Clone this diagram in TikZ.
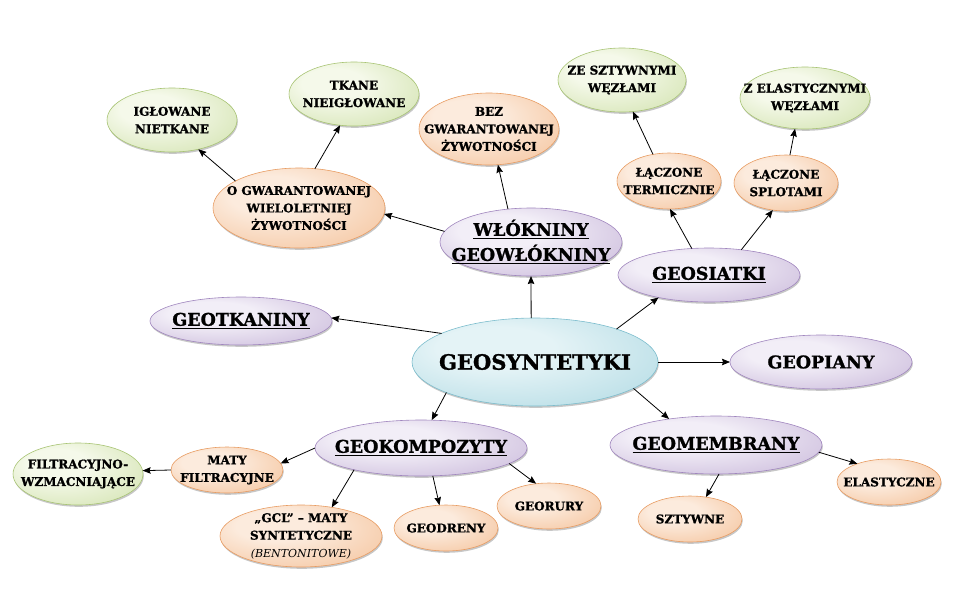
\documentclass[tikz,border=0pt]{standalone}
\usepackage{fontspec}
\setmainfont{DejaVu Serif}[BoldFeatures={FakeBold=1.2}]
\usetikzlibrary{shapes.geometric,shadows,arrows.meta}

\definecolor{purIn}{HTML}{F2EEF7}
\definecolor{purOut}{HTML}{BFABD3}
\definecolor{purRim}{HTML}{A086BE}
\definecolor{oraIn}{HTML}{FCEBDD}
\definecolor{oraOut}{HTML}{F2B88A}
\definecolor{oraRim}{HTML}{E89C62}
\definecolor{grnIn}{HTML}{F5F9EA}
\definecolor{grnOut}{HTML}{C8DC9E}
\definecolor{grnRim}{HTML}{A8C474}
\definecolor{cyaIn}{HTML}{E4F3F6}
\definecolor{cyaOut}{HTML}{A4D4DF}
\definecolor{cyaRim}{HTML}{7CBDCD}

\pgfdeclareradialshading{purshade}{\pgfpoint{-10bp}{10bp}}{color(0bp)=(purIn); color(12bp)=(purIn); color(48bp)=(purOut); color(62bp)=(purRim)}
\pgfdeclareradialshading{orashade}{\pgfpoint{-10bp}{10bp}}{color(0bp)=(oraIn); color(12bp)=(oraIn); color(48bp)=(oraOut); color(62bp)=(oraRim)}
\pgfdeclareradialshading{grnshade}{\pgfpoint{-10bp}{10bp}}{color(0bp)=(grnIn); color(12bp)=(grnIn); color(48bp)=(grnOut); color(62bp)=(grnRim)}
\pgfdeclareradialshading{cyashade}{\pgfpoint{-10bp}{10bp}}{color(0bp)=(cyaIn); color(12bp)=(cyaIn); color(48bp)=(cyaOut); color(62bp)=(cyaRim)}

\newcommand\myul[1]{\leavevmode\setbox0\hbox{#1}\rlap{\rule[-3.5pt]{\wd0}{1.6pt}}\box0}
\newcommand\fsmall{\bfseries\fontsize{12}{17.5}\selectfont}
\newcommand\fmid{\bfseries\fontsize{17.5}{25}\selectfont}
\newcommand\fbig{\bfseries\fontsize{21}{25}\selectfont}

\tikzset{
  basebox/.style={ellipse, inner sep=0pt, outer sep=0pt, draw=#1Rim, line width=0.6pt,
    drop shadow={shadow xshift=0.8pt, shadow yshift=-1.8pt, opacity=0.22, fill=black}},
  pur/.style={basebox=pur, shade, shading=purshade},
  ora/.style={basebox=ora, shade, shading=orashade},
  grn/.style={basebox=grn, shade, shading=grnshade},
  cya/.style={basebox=cya, shade, shading=cyashade},
  sz/.style 2 args={minimum width=#1pt, minimum height=#2pt},
  lbl/.style={align=center, inner sep=0pt, text=black, font=\fsmall},
  lblm/.style={lbl, font=\fmid},
  lblb/.style={lbl, font=\fbig},
  arr/.style={-{Stealth[length=8pt,width=6.5pt,inset=1pt]}, line width=0.8pt, black}
}

\begin{document}
\begin{tikzpicture}[x=1pt,y=-1pt]
\useasboundingbox (0,0) rectangle (960,598);

% main
\node[cya, sz={246}{88}, label={[lblb]center:GEOSYNTETYKI}] (c) at (535,362) {};

% purple
\node[pur, sz={182}{68}, label={[lblm]center:{\myul{WŁÓKNINY}\\\myul{GEOWŁÓKNINY}}}] (wl) at (531,242) {};
\node[pur, sz={182}{54}, label={[lblm]center:\myul{GEOSIATKI}}] (sia) at (709,275) {};
\node[pur, sz={182}{48}, label={[lblm]center:\myul{GEOTKANINY}}] (gtk) at (241,321) {};
\node[pur, sz={182}{54}, label={[lblm]center:GEOPIANY}] (gp) at (821,362) {};
\node[pur, sz={212}{58}, label={[lblm]center:\myul{GEOMEMBRANY}}] (gm) at (716,445) {};
\node[pur, sz={212}{56}, label={[lblm]center:\myul{GEOKOMPOZYTY}}] (gk) at (421,448) {};

% orange
\node[ora, sz={140}{72}, label={[lbl]center:{BEZ\\GWARANTOWANEJ\\ŻYWOTNOŚCI}}] (bez) at (489,129) {};
\node[ora, sz={172}{80}, label={[lbl]center:{O GWARANTOWANEJ\\WIELOLETNIEJ\\ŻYWOTNOŚCI}}] (ogw) at (299,208) {};
\node[ora, sz={104}{56}, label={[lbl]center:{ŁĄCZONE\\TERMICZNIE}}] (lt) at (669,181) {};
\node[ora, sz={104}{56}, label={[lbl]center:{ŁĄCZONE\\SPLOTAMI}}] (ls) at (786,183) {};
\node[ora, sz={104}{46}, label={[lbl]center:ELASTYCZNE}] (el) at (889,482) {};
\node[ora, sz={104}{46}, label={[lbl]center:SZTYWNE}] (sz) at (690,519) {};
\node[ora, sz={104}{46}, label={[lbl]center:GEORURY}] (gr) at (549,506) {};
\node[ora, sz={104}{46}, label={[lbl]center:GEODRENY}] (gd) at (446,528) {};
\node[ora, sz={162}{62}, label={[lbl]center:{„GCL” – MATY\\SYNTETYCZNE\\{\normalfont\itshape\fontsize{11}{17}\selectfont (BENTONITOWE)}}}] (gcl) at (301,536) {};
\node[ora, sz={112}{46}, label={[lbl]center:{MATY\\FILTRACYJNE}}] (mf) at (227,470) {};

% green
\node[grn, sz={130}{64}, label={[lbl]center:{IGŁOWANE\\NIETKANE}}] (igl) at (172,120) {};
\node[grn, sz={130}{64}, label={[lbl]center:{TKANE\\NIEIGŁOWANE}}] (tk) at (354,94) {};
\node[grn, sz={128}{64}, label={[lbl]center:{ZE SZTYWNYMI\\WĘZŁAMI}}] (zs) at (622,80) {};
\node[grn, sz={130}{62}, label={[lbl]center:{Z ELASTYCZNYMI\\WĘZŁAMI}}] (ze) at (805,98) {};
\node[grn, sz={130}{62}, label={[lbl]center:{FILTRACYJNO-\\WZMACNIAJĄCE}}] (fw) at (78,474) {};

% connectors
\draw[arr] (c.95) -- (wl.-90);
\draw[arr] (c.22) -- (sia.204);
\draw[arr] (c.163) -- (gtk.2);
\draw[arr] (c.0) -- (gp.180);
\draw[arr] (c.-15) -- (gm.151);
\draw[arr] (c.199) -- (gk.69);
\draw[arr] (wl.173) -- (ogw.-4);
\draw[arr] (wl.125) -- (bez.-76);
\draw[arr] (ogw.157) -- (igl.-48);
\draw[arr] (ogw.68) -- (tk.-114);
\draw[arr] (sia.123) -- (lt.-88);
\draw[arr] (sia.38) -- (ls.-116);
\draw[arr] (lt.121) -- (zs.-71);
\draw[arr] (ls.82) -- (ze.-108);
\draw[arr] (gm.-4) -- (el.150);
\draw[arr] (gm.-84) -- (sz.54);
\draw[arr] (gk.180) -- (mf.7);
\draw[arr] (mf.180) -- (fw.3);
\draw[arr] (gk.198) -- (gcl.43);
\draw[arr] (gk.-67) -- (gd.106);
\draw[arr] (gk.-10) -- (gr.120);
\end{tikzpicture}
\end{document}
